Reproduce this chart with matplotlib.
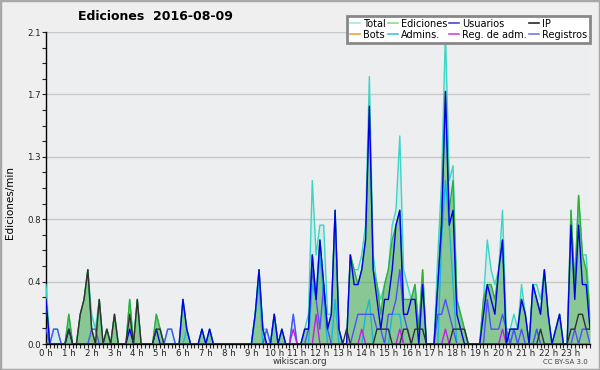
import numpy as np
import matplotlib
matplotlib.use('Agg')
import matplotlib.pyplot as plt
from matplotlib.ticker import MultipleLocator
from matplotlib.lines import Line2D
from matplotlib.patches import Rectangle

# tick labels, one per hour
hour_labels = [f'{h} h' for h in range(24)]

# edits per 10 minutes (one row per hour, 6 bins each)
total = [4, 0, 1, 1, 0, 0,   2, 0, 0, 2, 3, 5,   2, 1, 3, 0, 1, 0,   2, 0, 0, 0, 3, 0,
         3, 0, 0, 0, 0, 2,   1, 0, 1, 1, 0, 0,   3, 1, 0, 0, 0, 1,   0, 1, 0, 0, 0, 0,
         0, 0, 0, 0, 0, 0,   0, 2, 5, 1, 1, 0,   2, 0, 1, 0, 0, 2,   0, 0, 1, 2, 11, 6,
         8, 8, 2, 2, 9, 1,   0, 0, 6, 5, 5, 6,   8, 18, 6, 4, 3, 4,  5, 8, 9, 14, 5, 4,
         3, 4, 1, 5, 0, 0,   0, 6, 11, 21, 11, 12, 3, 2, 1, 0, 0, 0, 0, 3, 7, 5, 4, 5,
         9, 1, 1, 2, 1, 4,   2, 0, 4, 4, 3, 5,   2, 0, 1, 2, 0, 0,   9, 4, 10, 6, 6, 2]
ediciones = [3, 0, 0, 0, 0, 0,   2, 0, 0, 2, 3, 5,   1, 0, 3, 0, 1, 0,   2, 0, 0, 0, 3, 0,
             3, 0, 0, 0, 0, 2,   1, 0, 0, 0, 0, 0,   3, 1, 0, 0, 0, 1,   0, 1, 0, 0, 0, 0,
             0, 0, 0, 0, 0, 0,   0, 2, 5, 1, 0, 0,   2, 0, 1, 0, 0, 0,   0, 0, 1, 1, 6, 3,
             7, 4, 1, 2, 9, 1,   0, 0, 6, 5, 4, 5,   7, 16, 5, 4, 2, 4,  5, 7, 8, 9, 3, 3,
             3, 4, 1, 5, 0, 0,   0, 4, 9, 17, 9, 11, 3, 2, 1, 0, 0, 0,  0, 3, 4, 4, 3, 5,
             7, 0, 1, 1, 1, 3,   2, 0, 4, 3, 2, 5,   2, 0, 1, 2, 0, 0,   9, 4, 10, 6, 5, 2]
usuarios = [3, 0, 0, 0, 0, 0,   1, 0, 0, 0, 0, 0,   0, 0, 0, 0, 0, 0,   0, 0, 0, 0, 1, 0,
            0, 0, 0, 0, 0, 1,   0, 0, 0, 0, 0, 0,   3, 1, 0, 0, 0, 1,   0, 1, 0, 0, 0, 0,
            0, 0, 0, 0, 0, 0,   0, 2, 5, 1, 0, 0,   2, 0, 1, 0, 0, 0,   0, 0, 1, 1, 6, 3,
            7, 4, 1, 2, 9, 1,   0, 0, 6, 4, 4, 5,   7, 16, 5, 3, 1, 3,  3, 5, 8, 9, 2, 2,
            3, 3, 0, 4, 0, 0,   0, 4, 8, 17, 8, 9,  2, 1, 0, 0, 0, 0,   0, 2, 4, 3, 2, 5,
            7, 0, 1, 1, 1, 3,   2, 0, 4, 3, 2, 5,   2, 0, 1, 2, 0, 0,   8, 3, 8, 4, 4, 1]
ip = [0, 0, 0, 0, 0, 0,   1, 0, 0, 2, 3, 5,   1, 0, 3, 0, 1, 0,   2, 0, 0, 0, 2, 0,
      3, 0, 0, 0, 0, 1,   1, 0, 0, 0, 0, 0,   0, 0, 0, 0, 0, 0,   0, 0, 0, 0, 0, 0,
      0, 0, 0, 0, 0, 0,   0, 0, 0, 0, 0, 0,   0, 0, 0, 0, 0, 0,   0, 0, 0, 0, 0, 0,
      0, 0, 0, 0, 0, 0,   0, 1, 0, 0, 0, 0,   0, 0, 0, 1, 1, 1,   1, 0, 0, 0, 1, 1,
      0, 1, 1, 1, 0, 0,   0, 0, 0, 0, 0, 1,   1, 1, 1, 0, 0, 0,   0, 0, 0, 0, 0, 0,
      0, 0, 0, 0, 0, 0,   0, 0, 0, 0, 1, 0,   0, 0, 0, 0, 0, 0,   1, 1, 2, 2, 1, 1]
bots = [0] * 144
admins = [0, 0, 0, 0, 0, 0,   0, 0, 0, 0, 0, 0,   0, 0, 0, 0, 0, 0,   0, 0, 0, 0, 0, 0,
          0, 0, 0, 0, 0, 0,   0, 0, 0, 0, 0, 0,   0, 1, 0, 0, 0, 0,   0, 0, 0, 0, 0, 0,
          0, 0, 0, 0, 0, 0,   0, 2, 4, 0, 0, 0,   2, 0, 0, 0, 0, 0,   0, 0, 0, 0, 4, 3,
          6, 3, 0, 0, 3, 0,   0, 0, 0, 0, 0, 0,   2, 3, 0, 0, 0, 0,   0, 2, 2, 2, 0, 0,
          0, 0, 0, 0, 0, 0,   0, 0, 7, 11, 8, 4,  0, 0, 0, 0, 0, 0,   0, 0, 0, 0, 0, 0,
          0, 0, 0, 1, 0, 0,   0, 0, 0, 1, 0, 0,   0, 0, 0, 0, 0, 0,   0, 0, 0, 0, 0, 0]
reg_adm = [0, 0, 0, 0, 0, 0,   0, 0, 0, 0, 0, 0,   0, 0, 0, 0, 0, 0,   0, 0, 0, 0, 0, 0,
           0, 0, 0, 0, 0, 0,   0, 0, 0, 0, 0, 0,   0, 0, 0, 0, 0, 0,   0, 0, 0, 0, 0, 0,
           0, 0, 0, 0, 0, 0,   0, 0, 0, 0, 0, 0,   0, 0, 0, 0, 0, 1,   0, 0, 0, 0, 0, 2,
           0, 0, 0, 0, 0, 0,   0, 0, 0, 0, 0, 1,   0, 0, 0, 0, 0, 0,   0, 0, 0, 1, 0, 0,
           0, 0, 0, 0, 0, 0,   0, 0, 0, 1, 0, 0,   0, 0, 0, 0, 0, 0,   0, 0, 0, 0, 0, 0,
           1, 0, 0, 0, 0, 0,   0, 0, 0, 0, 0, 0,   0, 0, 0, 0, 0, 0,   0, 0, 0, 0, 0, 0]
registros = [1, 0, 1, 1, 0, 0,   0, 0, 0, 0, 0, 0,   1, 1, 0, 0, 0, 0,   0, 0, 0, 0, 0, 0,
             0, 0, 0, 0, 0, 0,   0, 0, 1, 1, 0, 0,   0, 0, 0, 0, 0, 0,   0, 0, 0, 0, 0, 0,
             0, 0, 0, 0, 0, 0,   0, 0, 0, 0, 1, 0,   0, 0, 0, 0, 0, 2,   0, 0, 0, 1, 5, 3,
             1, 4, 1, 0, 0, 0,   0, 0, 0, 1, 2, 2,   2, 2, 2, 1, 1, 0,   2, 2, 3, 5, 2, 1,
             0, 0, 0, 0, 0, 0,   0, 2, 2, 3, 2, 1,   0, 0, 0, 0, 0, 0,   0, 0, 3, 1, 1, 1,
             2, 1, 0, 1, 0, 1,   0, 0, 0, 1, 0, 0,   0, 0, 0, 0, 0, 0,   0, 1, 0, 1, 1, 0]

x = np.arange(144)


def per_min(values):
    # 10-minute counts -> edits per minute
    return np.array(values) / 10.0


fig = plt.figure(figsize=(6, 3.7), dpi=100, facecolor='#efefef')
ax = fig.add_axes([46 / 600, 26 / 370, 544 / 600, 312 / 370])
ax.set_facecolor('#eceef0')

ax.fill_between(x, per_min(total), color='#40d8c8', alpha=0.13, lw=0, zorder=1)
ax.fill_between(x, per_min(ediciones), color='#2e9e2e', alpha=0.45, lw=0, zorder=2)

series = [
    (total, '#3cd4c4', 3),
    (ediciones, '#30b030', 4),
    (bots, '#f0a030', 4),
    (admins, '#18b8d4', 5),
    (registros, '#5050f8', 6),
    (reg_adm, '#c020e0', 7),
    (usuarios, '#0000e8', 8),
    (ip, '#303030', 9),
]
for values, color, z in series:
    if max(values) == 0:
        continue
    ax.plot(x, per_min(values), color=color, lw=1.0, zorder=z)

ax.set_xlim(0, 143)
ax.set_ylim(0, 2.1)
ax.set_yticks([0, 0.42, 0.84, 1.26, 1.68, 2.1])
ax.set_yticklabels(['0.0', '0.4', '0.8', '1.3', '1.7', '2.1'])
ax.yaxis.set_minor_locator(MultipleLocator(0.105))
ax.set_xticks(np.arange(0, 144, 6))
ax.set_xticklabels(hour_labels)
ax.xaxis.set_minor_locator(MultipleLocator(1))
ax.tick_params(axis='both', which='both', direction='out', length=3, width=0.8,
               labelsize=6.2, colors='#222222', pad=0.8)
ax.yaxis.grid(True, color='#c8c8c8', lw=1)
ax.set_axisbelow(True)
for side in ['top', 'right']:
    ax.spines[side].set_visible(False)
for side in ['left', 'bottom']:
    ax.spines[side].set_color('black')
    ax.spines[side].set_linewidth(1.0)

# legend, filled column by column
legend_items = [
    ('Total', '#a8e8e0'), ('Bots', '#f0a040'),
    ('Ediciones', '#90d890'), ('Admins.', '#40c8d8'),
    ('Usuarios', '#4848d8'), ('Reg. de adm.', '#d048e0'),
    ('IP', '#282828'), ('Registros', '#7878f0'),
]
handles = [Line2D([], [], color=c, lw=1.2) for _, c in legend_items]
labels = [name for name, _ in legend_items]
leg = fig.legend(handles, labels, ncol=4, loc='upper right',
                 bbox_to_anchor=(595 / 600, 1 - 11 / 370), fontsize=7,
                 handlelength=1.0, handletextpad=0.35, columnspacing=0.2,
                 labelspacing=0.1, borderpad=0.3, fancybox=False, framealpha=1)
leg.get_frame().set_edgecolor('#888888')
leg.get_frame().set_linewidth(2.0)
leg.set_zorder(20)

fig.text(155 / 600, 1 - 17 / 370, 'Ediciones  2016-08-09', ha='center', va='center',
         fontsize=9, fontweight='bold')
fig.text(10 / 600, 1 - 203 / 370, 'Ediciones/min', rotation=90, ha='center', va='center',
         fontsize=7.5)
fig.text(300 / 600, 1 - 362 / 370, 'wikiscan.org', ha='center', va='center',
         fontsize=6.3, color='#333333')
fig.text(565 / 600, 1 - 362 / 370, 'CC BY-SA 3.0', ha='center', va='center',
         fontsize=5, color='#444444')
fig.add_artist(Rectangle((0, 0), 1, 1, transform=fig.transFigure, fill=False,
                         ec='#a8a8a8', lw=2.5))

fig.savefig('out.png', dpi=100, facecolor=fig.get_facecolor())
